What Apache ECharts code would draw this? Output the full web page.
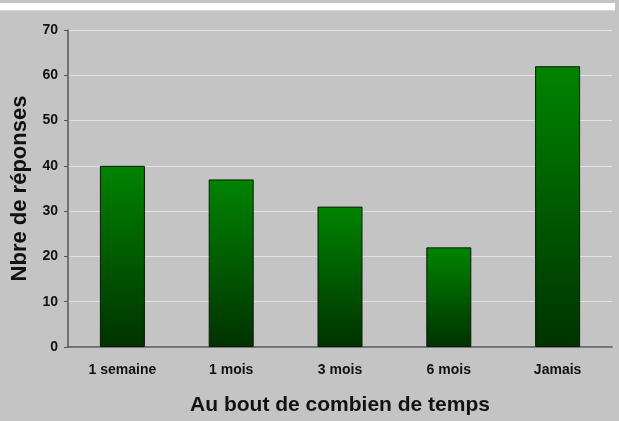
<!DOCTYPE html>
<html>
<head>
<meta charset="utf-8">
<script src="https://cdn.jsdelivr.net/npm/echarts@6/dist/echarts.min.js"></script>
<style>
  html, body { margin: 0; padding: 0; background: #c4c4c4; }
  #chart { width: 619px; height: 421px; }
</style>
</head>
<body>
<div id="chart"></div>
<script>
// categories et valeurs
var categories = ['1 semaine', '1 mois', '3 mois', '6 mois', 'Jamais'];
var values = [40, 37, 31, 22, 62];
var yTicks = { min: 0, max: 70, interval: 10 };

var chart = echarts.init(document.getElementById('chart'));
var option = {
    backgroundColor: '#c4c4c4',
    animation: false,
    textStyle: { fontFamily: 'Liberation Sans, Arial, sans-serif' },
    graphic: [
        { type: 'rect', shape: { x: 0, y: 3, width: 615, height: 7 }, style: { fill: '#ffffff' } },
        { type: 'rect', shape: { x: 0, y: 10, width: 615, height: 1 }, style: { fill: '#d8d8d8' } }
    ],
    grid: { left: 68, right: 7, top: 30, bottom: 74, outerBoundsMode: 'none' },
    xAxis: {
        type: 'category',
        data: categories,
        name: 'Au bout de combien de temps',
        nameLocation: 'middle',
        nameGap: 48,
        nameTextStyle: { fontSize: 21, fontWeight: 'bold', color: '#111' },
        axisLine: { lineStyle: { color: '#555', width: 1.5 } },
        axisTick: { inside: true, length: 4, lineStyle: { color: '#555' } },
        axisLabel: { margin: 16, fontSize: 14, fontWeight: 'bold', color: '#111' }
    },
    yAxis: {
        type: 'value',
        min: yTicks.min,
        max: yTicks.max,
        interval: yTicks.interval,
        name: 'Nbre de réponses',
        nameLocation: 'middle',
        nameGap: 37,
        nameTextStyle: { fontSize: 22, fontWeight: 'bold', color: '#111' },
        axisLine: { show: true, lineStyle: { color: '#555', width: 1.5 } },
        axisTick: { show: true, length: 4, lineStyle: { color: '#555' } },
        axisLabel: { margin: 10, fontSize: 14, fontWeight: 'bold', color: '#111' },
        splitLine: { lineStyle: { color: '#e2e2e2', width: 1 } }
    },
    series: [{
        type: 'bar',
        data: values,
        barWidth: 45,
        itemStyle: {
            borderColor: '#0a1a0a',
            borderWidth: 1,
            color: new echarts.graphic.LinearGradient(0, 0, 0, 1, [
                { offset: 0, color: '#008400' },
                { offset: 1, color: '#003200' }
            ])
        }
    }]
};
chart.setOption(option);
</script>
</body>
</html>
